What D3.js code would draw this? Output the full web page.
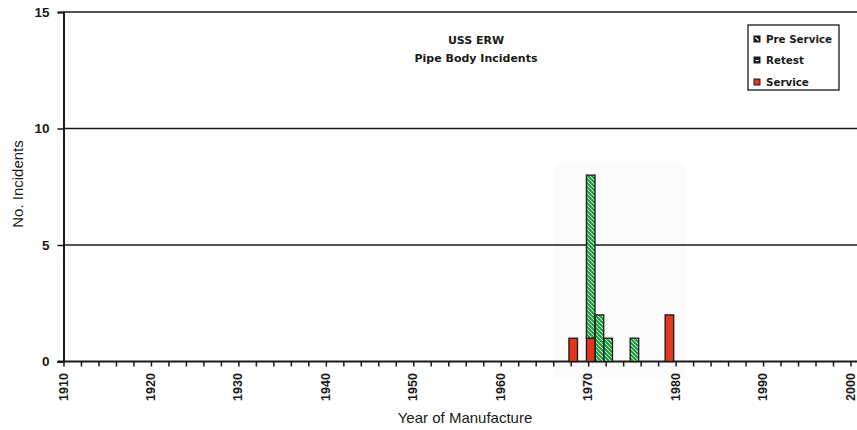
<!DOCTYPE html>
<html>
<head>
<meta charset="utf-8">
<script src="https://cdn.jsdelivr.net/npm/d3@7"></script>
<style>
  html, body { margin: 0; padding: 0; background: #fff; }
  svg { display: block; }
</style>
</head>
<body>
<svg id="chart" width="857" height="430"></svg>
<script>
// ---- data ----
const years = [1968, 1970, 1971, 1972, 1975, 1979];
const preService = [0, 7, 2, 1, 1, 0];
const retest = [0, 0, 0, 0, 0, 0];
const service = [1, 1, 0, 0, 0, 2];
const seriesNames = ["Pre Service", "Retest", "Service"];
const yTickValues = [0, 5, 10, 15];
const xLabelYears = [1910, 1920, 1930, 1940, 1950, 1960, 1970, 1980, 1990, 2000];
const titleLines = ["USS ERW", "Pipe Body Incidents"];

// ---- layout ----
const svg = d3.select("#chart");
const x = d3.scaleLinear().domain([1910, 2000]).range([63.5, 850.5]);
const y = d3.scaleLinear().domain([0, 15]).range([361.5, 12]);
const ink = "#1a1a1a";
const green = "#189a38";
const red = "#e2361f";

const defs = svg.append("defs");
const pat = defs.append("pattern").attr("id", "hatch")
  .attr("patternUnits", "userSpaceOnUse").attr("width", 4).attr("height", 4);
pat.append("rect").attr("width", 4).attr("height", 4).attr("fill", "#fff");
pat.append("path").attr("d", "M-1,-1 L5,5 M-1,3 L1,5 M3,-1 L5,1")
  .attr("stroke", green).attr("stroke-width", 2.1);

// scan patch behind bars
svg.append("rect").attr("x", 554).attr("y", 163).attr("width", 132).attr("height", 217)
  .attr("fill", "#fbfbfb");

// gridlines
svg.append("g").selectAll("line").data(yTickValues.filter(d => d > 0)).join("line")
  .attr("x1", x(1910)).attr("x2", 857)
  .attr("y1", d => y(d)).attr("y2", d => y(d))
  .attr("stroke", ink).attr("stroke-width", 1.4);

const tickFont = "'Liberation Sans', Arial, sans-serif";

// y axis
const yAxis = d3.axisLeft(y).tickValues(yTickValues).tickSize(6).tickPadding(8);
const gy = svg.append("g").attr("transform", `translate(${x(1910)},0)`).call(yAxis);
gy.select(".domain").attr("stroke", ink).attr("stroke-width", 2);
gy.selectAll(".tick line").attr("stroke", ink).attr("stroke-width", 1.5);
gy.selectAll(".tick text").attr("fill", ink)
  .style("font-family", tickFont).style("font-size", "13.5px").style("font-weight", "bold");

// x axis
const minorTicks = d3.range(1910, 2001, 2);
const xAxis = d3.axisBottom(x).tickValues(minorTicks).tickSize(5).tickFormat("");
const gx = svg.append("g").attr("transform", `translate(0,${y(0)})`).call(xAxis);
gx.select(".domain").remove();
gx.append("line").attr("x1", x(1910) - 6).attr("x2", 857).attr("y1", 0).attr("y2", 0)
  .attr("stroke", ink).attr("stroke-width", 2);
gx.selectAll(".tick line").attr("stroke", ink).attr("stroke-width", 1.5);

svg.append("g").selectAll("text").data(xLabelYears).join("text")
  .attr("transform", d => `translate(${x(d) + 4},387) rotate(-90)`)
  .attr("text-anchor", "middle")
  .attr("fill", ink)
  .style("font-family", tickFont).style("font-size", "12.5px").style("font-weight", "bold")
  .text(d => d);

// bars (stacked: service bottom, retest, pre service top)
const rows = years.map((yr, i) => ({ year: yr, service: service[i], retest: retest[i], pre: preService[i] }));
const stack = d3.stack().keys(["service", "retest", "pre"])(rows);
const fills = { service: red, retest: "#333", pre: "url(#hatch)" };
const bw = yr => [x(yr - 0.2), x(yr + 0.78)];
stack.forEach(layer => {
  svg.append("g").selectAll("rect").data(layer.filter(d => d[1] > d[0])).join("rect")
    .attr("x", d => bw(d.data.year)[0])
    .attr("width", d => bw(d.data.year)[1] - bw(d.data.year)[0])
    .attr("y", d => y(d[1]))
    .attr("height", d => y(d[0]) - y(d[1]))
    .attr("fill", fills[layer.key])
    .attr("stroke", ink).attr("stroke-width", 1.3);
});

// titles
svg.append("g").selectAll("text").data(titleLines).join("text")
  .attr("x", 476).attr("y", (d, i) => 44 + i * 18)
  .attr("text-anchor", "middle").attr("fill", ink)
  .style("font-family", "'DejaVu Sans', sans-serif").style("font-weight", "bold").style("font-size", "11px")
  .text(d => d);

// axis titles
svg.append("text").attr("x", 465).attr("y", 423).attr("text-anchor", "middle").attr("fill", ink)
  .style("font-family", tickFont).style("font-size", "15px")
  .text("Year of Manufacture");
svg.append("text").attr("transform", "translate(23,184) rotate(-90)").attr("text-anchor", "middle").attr("fill", ink)
  .style("font-family", tickFont).style("font-size", "15px")
  .text("No. Incidents");

// legend
const lg = svg.append("g");
lg.append("rect").attr("x", 748).attr("y", 25).attr("width", 91).attr("height", 65)
  .attr("fill", "#fff").attr("stroke", ink).attr("stroke-width", 1.3);
const legendY = [39, 60, 82];
const item = lg.selectAll("g").data(seriesNames).join("g")
  .attr("transform", (d, i) => `translate(0,${legendY[i]})`);
item.append("rect").attr("x", 754).attr("y", -3).attr("width", 6).attr("height", 6)
  .attr("fill", (d, i) => i === 2 ? red : ink).attr("stroke", ink).attr("stroke-width", 1);
item.filter((d, i) => i < 2).append("path")
  .attr("d", (d, i) => i === 0 ? "M755.5,-1.5 L758.5,1.5" : "M755.5,0.5 L758.5,0.5")
  .attr("stroke", "#fff").attr("stroke-width", 1.2);
item.append("text").attr("x", 766).attr("y", 4).attr("fill", ink)
  .style("font-family", "'DejaVu Sans', sans-serif").style("font-weight", "bold").style("font-size", "10.3px")
  .text(d => d);
</script>
</body>
</html>
